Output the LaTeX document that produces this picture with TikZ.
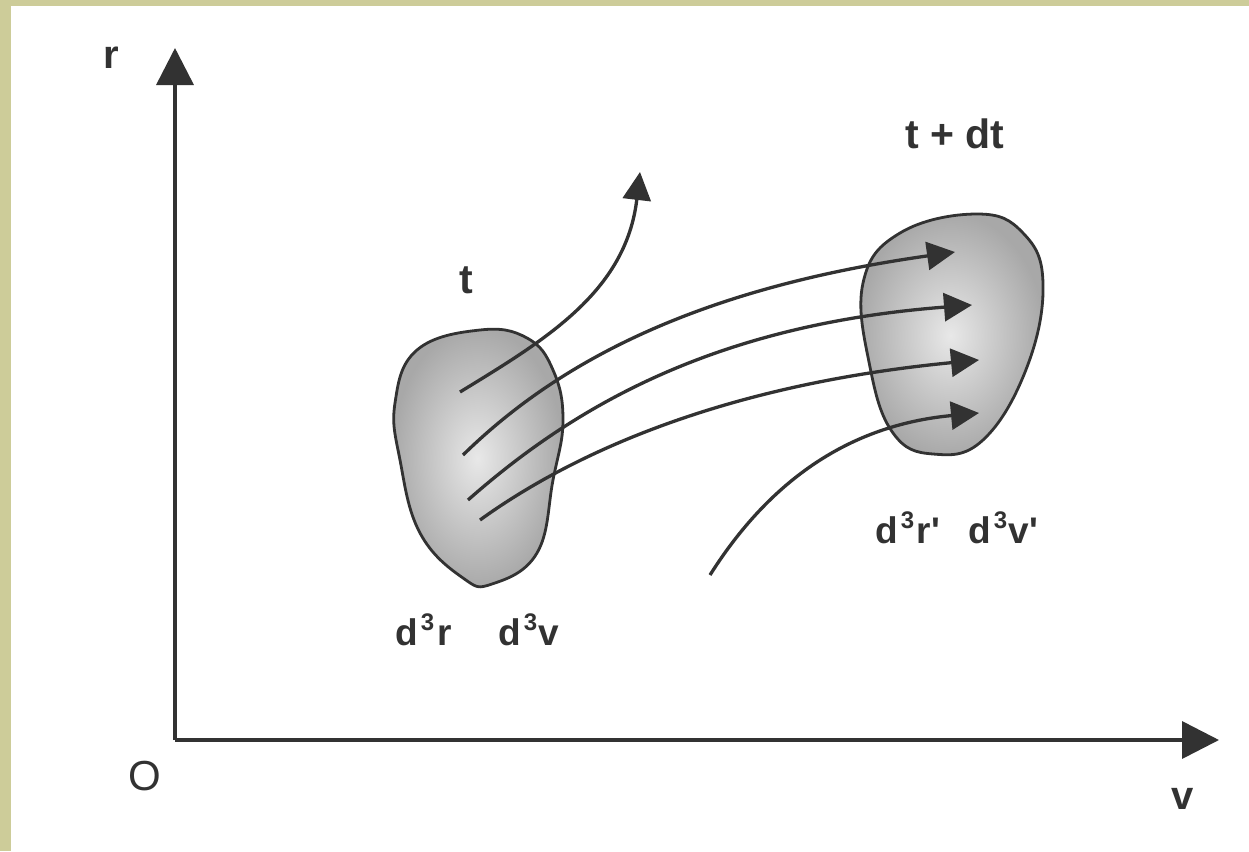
\documentclass[tikz,border=0pt]{standalone}
\usepackage{fontspec}
\setmainfont{Liberation Sans}
\usetikzlibrary{arrows.meta}
\definecolor{khaki}{RGB}{205,204,153}
\definecolor{ink}{RGB}{50,50,50}
\newcommand{\dcube}[3]{d\hspace{#1}\raisebox{15pt}{\fontsize{24}{24}\selectfont 3}\hspace{#2}#3}
\tikzset{
  axisline/.style={draw=ink, line width=3.6pt, line join=miter, -{Triangle[length=37pt,width=37pt]}},
  flow/.style={draw=ink, line width=3.3pt, -{Triangle[length=28pt,width=28pt]}},
  blob/.style={draw=ink, line width=2.8pt, inner color=gray!18, outer color=gray!68},
  lab/.style={text=ink, font=\fontsize{37}{44}\selectfont\bfseries, inner sep=0pt},
  tlabel/.style={text=ink, font=\fontsize{41}{48}\selectfont\bfseries, inner sep=0pt},
  biglab/.style={text=ink, font=\fontsize{40}{48}\selectfont\bfseries, inner sep=0pt},
  axlab/.style={text=ink, font=\fontsize{42}{50}\selectfont, inner sep=0pt},
}
\begin{document}
\begin{tikzpicture}[x=1pt,y=-1pt]
\useasboundingbox (0,0) rectangle (1249,851);
\fill[khaki] (0,0) rectangle (1249,851);
\fill[white] (11,6) rectangle (1249,851);

% blobs
\path[blob] plot[smooth cycle, tension=0.7] coordinates {(480,330) (527,338) (553,370) (563,420) (553,480) (537,553) (492,584) (463,578) (420,533) (400,460) (395,403) (417,350)};
\path[blob] plot[smooth cycle, tension=0.7] coordinates {(977,214) (1023,233) (1043,283) (1027,367) (983,440) (933,454) (893,433) (870,367) (863,283) (900,233)};

% axes
\coordinate (O) at (175,740);
\coordinate (ytip) at (175,48);
\coordinate (xtip) at (1219,740);
\draw[axisline] (O) -- (ytip);
\draw[axisline] (O) -- (xtip);

% flow lines
\coordinate (s0) at (460,392);
\coordinate (e0) at (640,172);
\coordinate (s1) at (463,455);
\coordinate (e1) at (955,252);
\coordinate (s2) at (468,500);
\coordinate (e2) at (972,305);
\coordinate (s3) at (480,520);
\coordinate (e3) at (979,360);
\coordinate (s4) at (710,575);
\coordinate (e4) at (979,413);
\draw[flow] (s0) .. controls (545,340) and (626,292) .. (e0);
\draw[flow] (s1) .. controls (560,360) and (700,288) .. (e1);
\draw[flow] (s2) .. controls (570,410) and (710,325) .. (e2);
\draw[flow] (s3) .. controls (570,455) and (720,385) .. (e3);
\draw[flow] (s4) .. controls (770,480) and (850,425) .. (e4);

% labels
\node[biglab] (rlab) at (111,58) {r};
\node[axlab] (olab) at (145,776) {O};
\node[biglab] (vlab) at (1183,799) {v};
\node[tlabel, anchor=base] (tlab) at (466,293) {t};
\node[tlabel, anchor=base west] (tdtlab) at (905,148) {t + dt};
\node[lab, anchor=base west] (d3r) at (395,645) {\dcube{3pt}{3pt}{r}};
\node[lab, anchor=base west] (d3v) at (498,645) {\dcube{3pt}{1pt}{v}};
\node[lab, anchor=base west] (d3rp) at (875,543) {\dcube{3pt}{2pt}{r}\hspace{1pt}\textquotesingle};
\node[lab, anchor=base west] (d3vp) at (968,543) {\dcube{3pt}{1pt}{v}\hspace{1pt}\textquotesingle};
\end{tikzpicture}
\end{document}
